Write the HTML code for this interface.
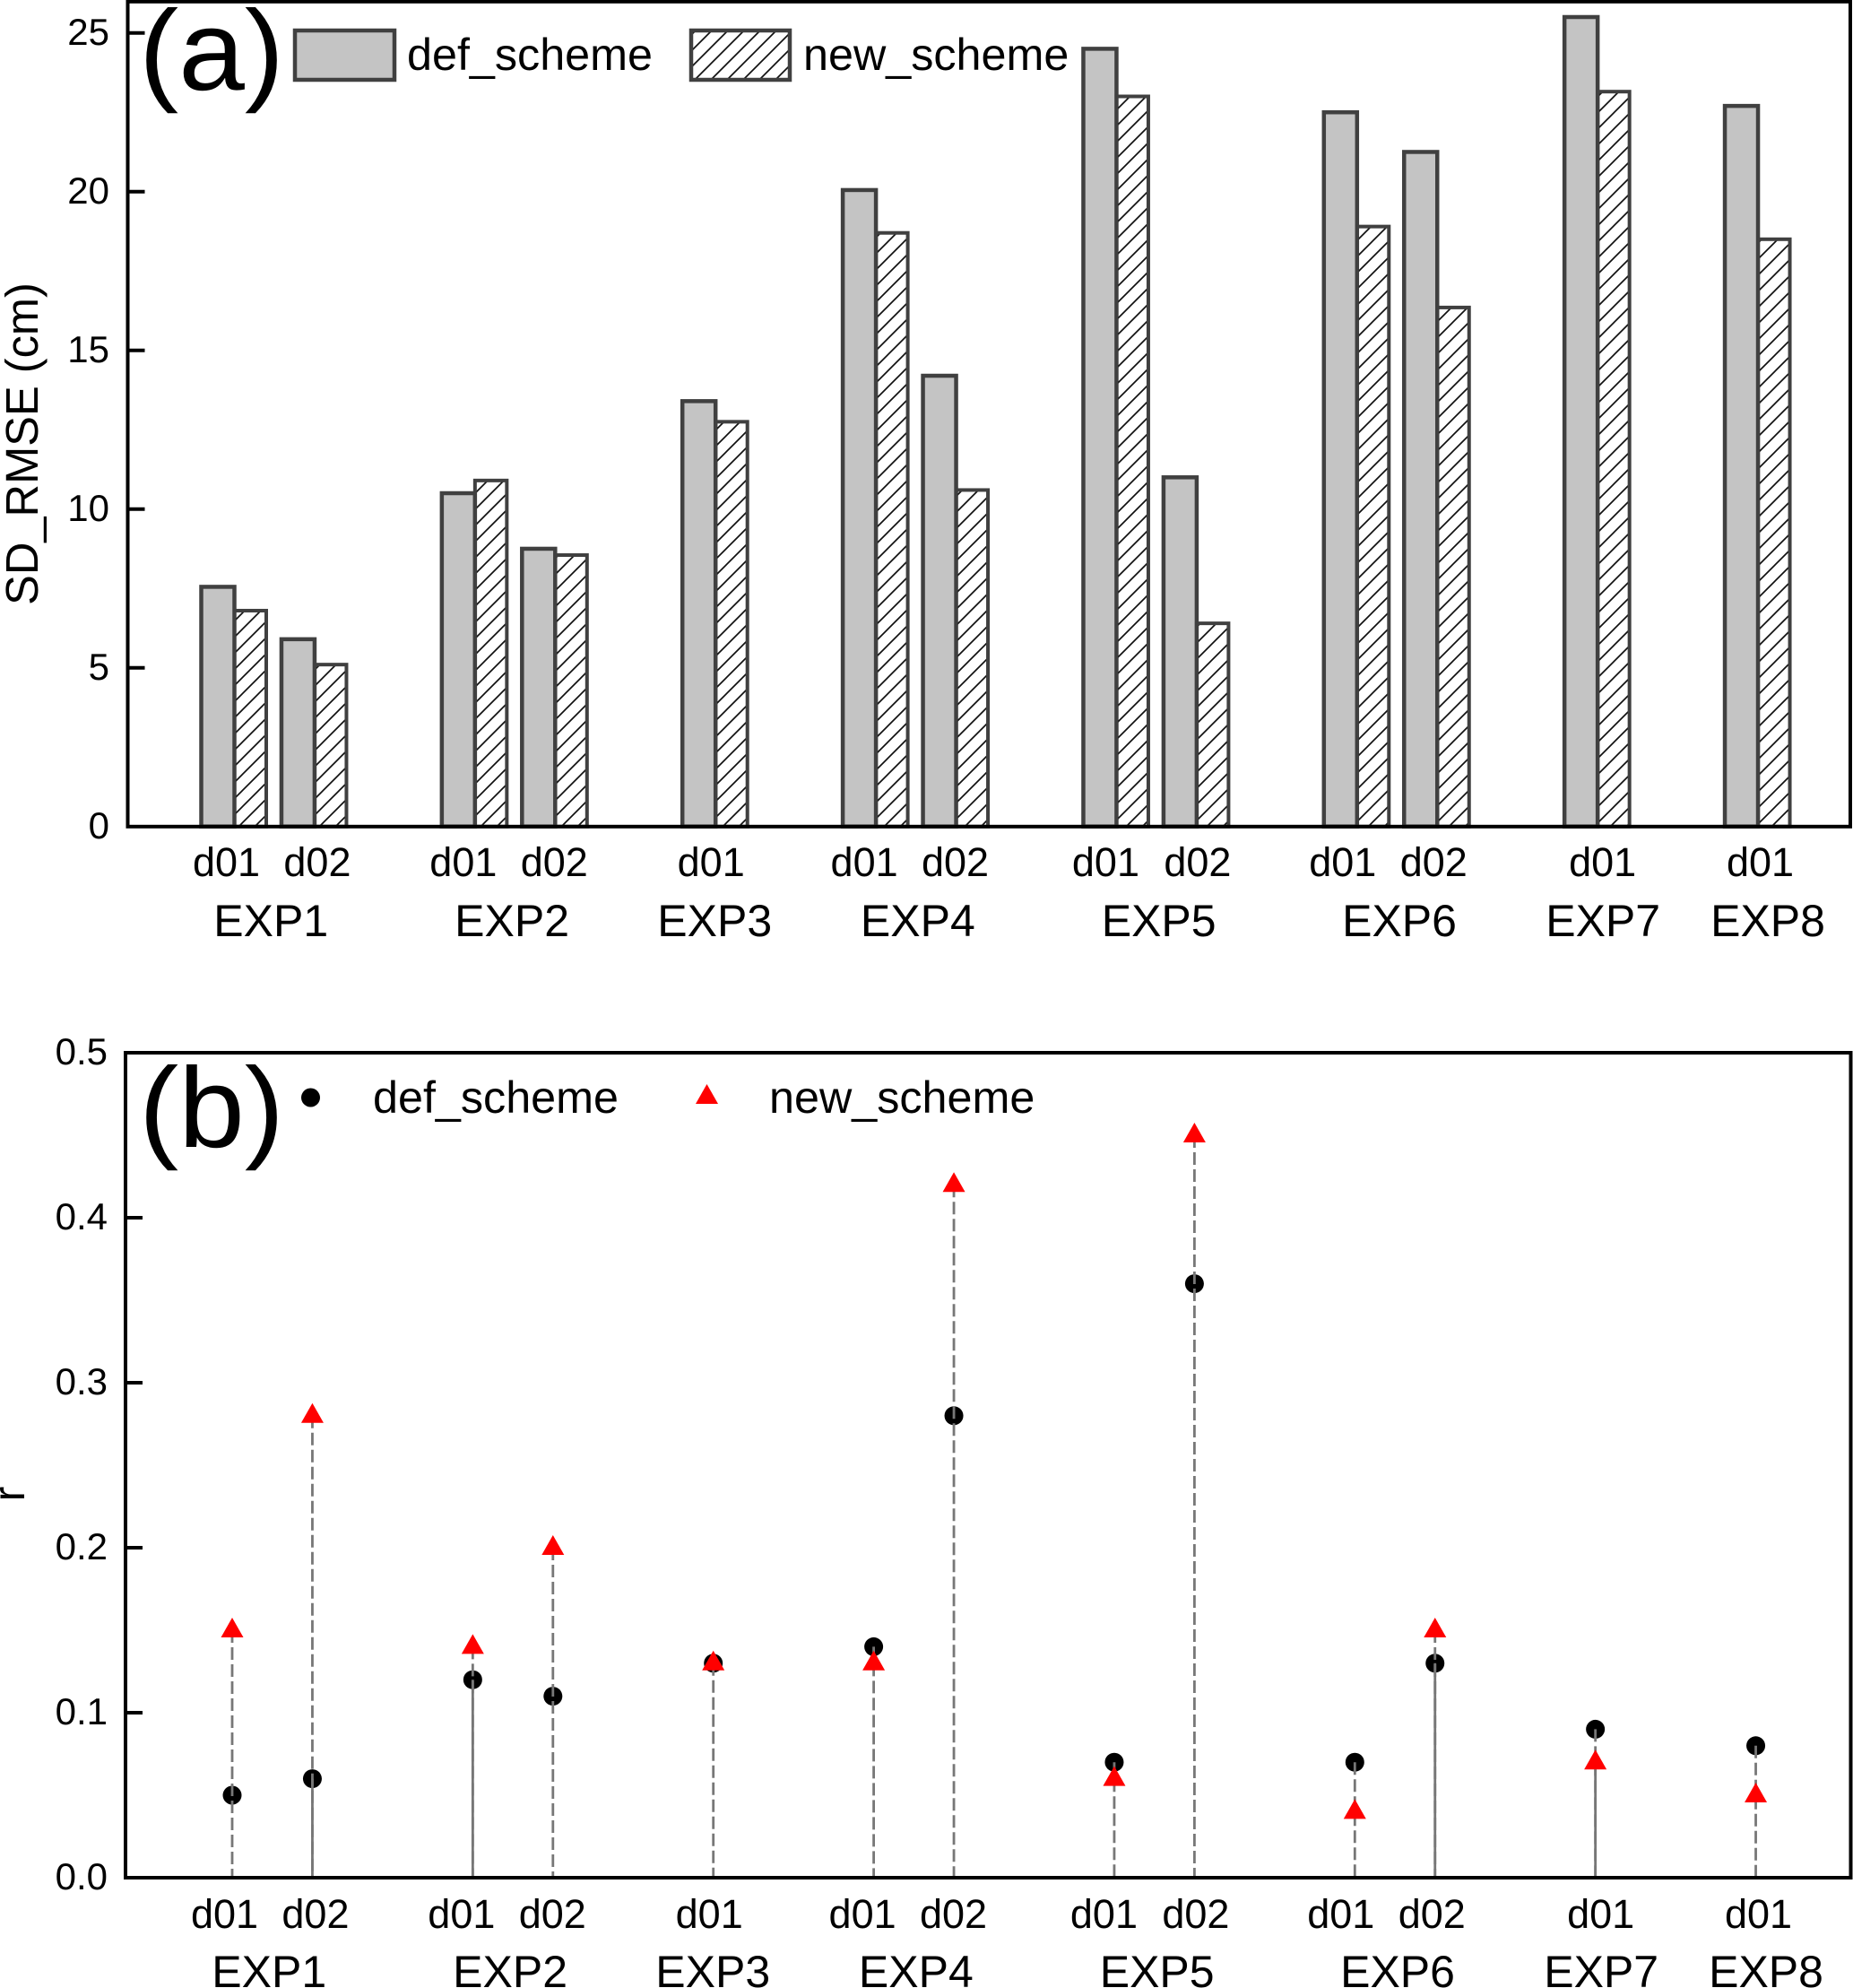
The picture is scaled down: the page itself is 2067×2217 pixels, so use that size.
<!DOCTYPE html>
<html lang="en">
<head>
<meta charset="utf-8">
<title>SD_RMSE and r by experiment</title>
<style>
html,body{margin:0;padding:0;background:#fff;width:2067px;height:2217px;overflow:hidden}
svg{display:block}
text{font-family:"Liberation Sans",Arial,sans-serif;fill:#000}
</style>
</head>
<body>
<svg id="chart" xmlns="http://www.w3.org/2000/svg" width="2067" height="2217" viewBox="0 0 2067 2217">
  <defs>
    <pattern id="hatch" patternUnits="userSpaceOnUse" width="18" height="18">
      <path d="M-2 2 L2 -2 M0 18 L18 0 M16 20 L20 16" stroke="#111" stroke-width="1.7" fill="none"/>
    </pattern>
  </defs>
  <rect width="2067" height="2217" fill="#fff"/>
  <g id="panelA"></g>
  <g id="panelB"></g>

  <text transform="translate(155,100) scale(1.044,1)" font-size="127">(a)</text>
  <g>
    <rect x="329" y="34" width="111" height="55" fill="#c4c4c4" stroke="#404040" stroke-width="4.5"/>
    <text x="454" y="78" font-size="50.3">def_scheme</text>
    <rect x="771" y="34" width="110" height="55" fill="url(#hatch)" stroke="#404040" stroke-width="4.5"/>
    <text x="896" y="78" font-size="50.3">new_scheme</text>
  </g>
  <text transform="translate(42,495) rotate(-90)" text-anchor="middle" font-size="50.6">SD_RMSE (cm)</text>

  <text transform="translate(155,1279) scale(1.044,1)" font-size="127">(b)</text>
  <g>
    <circle cx="346.5" cy="1224" r="10.5" fill="#000"/>
    <text x="416" y="1241" font-size="50.3">def_scheme</text>
    <polygon points="788.5,1209 801,1231 776,1231" fill="#f00"/>
    <text x="858" y="1241" font-size="50.3">new_scheme</text>
  </g>
  <text transform="translate(27,1666) rotate(-90)" text-anchor="middle" font-size="50">r</text>
</svg>
<script>
// ---- data ----
const groups = ['EXP1','EXP2','EXP3','EXP4','EXP5','EXP6','EXP7','EXP8'];
const groupDomains = [['d01','d02'],['d01','d02'],['d01'],['d01','d02'],['d01','d02'],['d01','d02'],['d01'],['d01']];
const rmseDef = [7.55,5.9,10.5,8.75,13.4,20.05,14.2,24.5,11.0,22.5,21.25,25.5,22.7];
const rmseNew = [6.8,5.1,10.9,8.55,12.75,18.7,10.6,23.0,6.4,18.9,16.35,23.15,18.5];
const rDef = [0.05,0.06,0.12,0.11,0.13,0.14,0.28,0.07,0.36,0.07,0.13,0.09,0.08];
const rNew = [0.15,0.28,0.14,0.20,0.13,0.13,0.42,0.06,0.45,0.04,0.15,0.07,0.05];
const rmseTicks = ['0','5','10','15','20','25'];
const rTicks = ['0.0','0.1','0.2','0.3','0.4','0.5'];
// stems the source draws as continuous below the lower marker
const solidStems = [false,true,true,false,false,false,false,false,false,false,true,true,false];

// ---- label layout nudges (px, not data) ----
const domainNudge = [-9,3,-13,-1,-5,-13,-1,-12,1,-16,-4,5.5,2.5];
const groupNudge = [-4,-3.5,-1,2,2.5,2.5,6,11];

// ---- axes ----
function yA(v){ return 921.7 - v * 35.4; }
function yB(v){ return 2094 - v * 184 * 10; }
function xA(s){ return 261.5 + s * 89.45; }
function xB(s){ return 259 + s * 89.45; }

const NS = 'http://www.w3.org/2000/svg';
function mk(parent, tag, attrs, txt){
  const el = document.createElementNS(NS, tag);
  for (const k in attrs) el.setAttribute(k, attrs[k]);
  if (txt !== undefined) el.textContent = txt;
  parent.appendChild(el);
  return el;
}

// slot index for each domain: one step within a group, two between groups
const slots = [], slotLabels = [], groupSlots = [];
(function(){
  let s = 0;
  groupDomains.forEach(function(ds){
    const first = s;
    ds.forEach(function(d){ slots.push(s); slotLabels.push(d); s += 1; });
    groupSlots.push((first + s - 1) / 2);
    s += 1;
  });
})();

function drawXLabels(g, xf, domainY, groupY, dx){
  slots.forEach(function(s, i){
    const t = mk(g, 'text', {x: xA(s) + domainNudge[i] + dx, y: domainY, 'font-size': 45, 'text-anchor': 'middle'}, slotLabels[i]);
    
    
  });
  groups.forEach(function(name, i){
    const t = mk(g, 'text', {x: xA(groupSlots[i]) + groupNudge[i] + dx, y: groupY, 'font-size': 50, 'text-anchor': 'middle'}, name);
    
    
  });
}

function drawYAxis(g, ticks, yf, left, anchorX, baseOff, skipEnds){
  ticks.forEach(function(label){
    const v = parseFloat(label), y = yf(v);
    const t = mk(g, 'text', {x: anchorX, y: y + baseOff, 'font-size': 42, 'text-anchor': 'end'}, label);
    
    
    const isEnd = v === 0 || (skipEnds && label === ticks[ticks.length - 1]);
    if (!isEnd) {
      const l = mk(g, 'line', {x1: left, x2: left + 19, y1: y, y2: y, stroke: '#000', 'stroke-width': 4});
      
      
    }
  });
}

// ---- panel a ----
(function(){
  const g = document.getElementById('panelA');
  const base = yA(0);
  slots.forEach(function(s, i){
    const mid = xA(s);
    const yd = yA(rmseDef[i]);
    const a = mk(g, 'rect', {x: mid - 37, y: yd, width: 37, height: base - yd, fill: '#c4c4c4', stroke: '#404040', 'stroke-width': 4.5});
    
    
    const yn = yA(rmseNew[i]);
    const b = mk(g, 'rect', {x: mid, y: yn, width: 35.5, height: base - yn, fill: 'url(#hatch)', stroke: '#404040', 'stroke-width': 4});
    
    
  });
  const frame = mk(g, 'rect', {x: 142.5, y: 1.8, width: 1921.5, height: 920, fill: 'none', stroke: '#000', 'stroke-width': 4});
  
  
  drawYAxis(g, rmseTicks, yA, 142.5, 122, 13.5, false);
  drawXLabels(g, xA, 977, 1044, 0);
})();

// ---- panel b ----
(function(){
  const g = document.getElementById('panelB');
  const base = yB(0);
  slots.forEach(function(s, i){
    const c = mk(g, 'circle', {cx: xB(s), cy: yB(rDef[i]), r: 10.5, fill: '#000'});
    
    
  });
  slots.forEach(function(s, i){
    const x = xB(s);
    const top = Math.max(rDef[i], rNew[i]);
    const low = Math.min(rDef[i], rNew[i]);
    const st = mk(g, 'line', {x1: x, x2: x, y1: yB(top), y2: base, stroke: '#777', 'stroke-width': 2.8, 'stroke-dasharray': '14 5'});
    
    
    if (solidStems[i]) {
      const so = mk(g, 'line', {x1: x, x2: x, y1: yB(low), y2: base, stroke: '#777', 'stroke-width': 2.8});
      
      
    }
  });
  slots.forEach(function(s, i){
    const x = xB(s), y = yB(rNew[i]);
    const pts = x + ',' + (y - 14) + ' ' + (x + 12.5) + ',' + (y + 8) + ' ' + (x - 12.5) + ',' + (y + 8);
    const p = mk(g, 'polygon', {points: pts, fill: '#f00'});
    
    
  });
  const frame = mk(g, 'rect', {x: 140, y: 1174, width: 1924.5, height: 920, fill: 'none', stroke: '#000', 'stroke-width': 4});
  
  
  drawYAxis(g, rTicks, yB, 140, 120, 13, true);
  drawXLabels(g, xB, 2150, 2216, -2);
})();
</script>
</body>
</html>
